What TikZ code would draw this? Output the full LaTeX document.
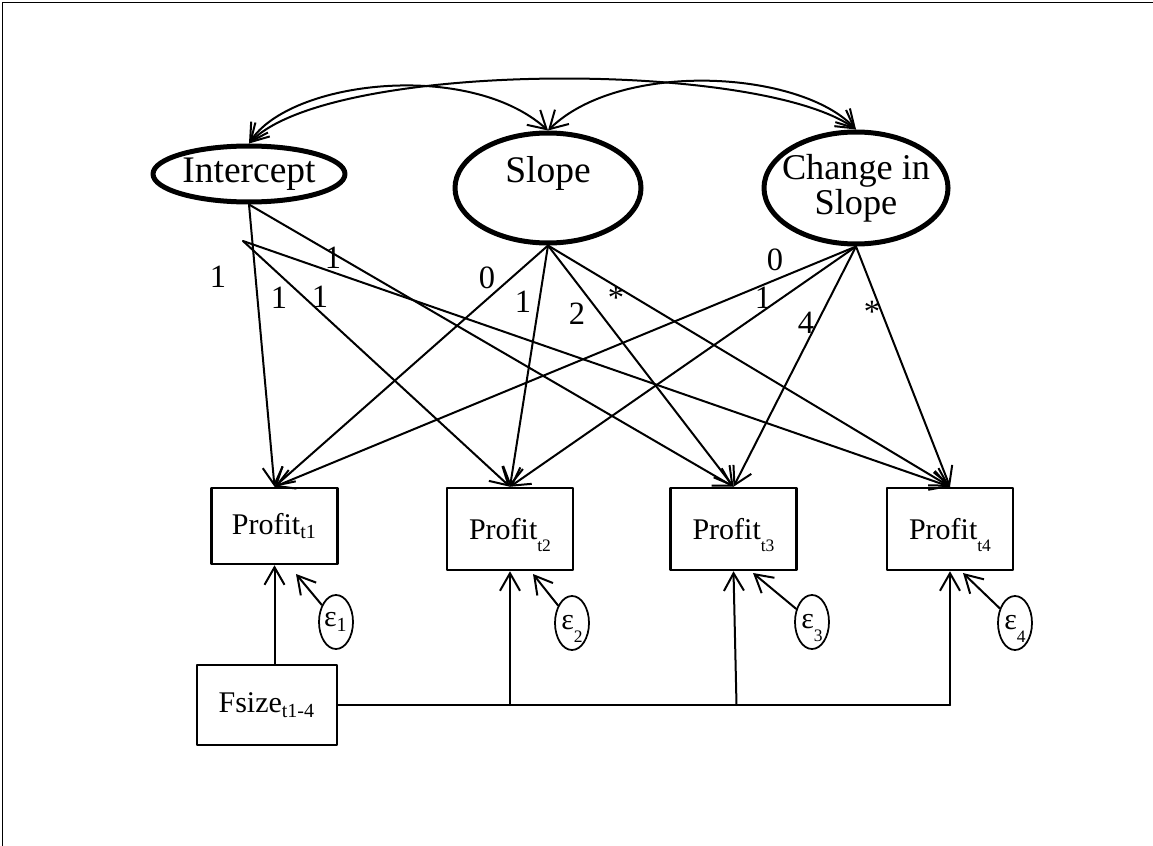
\documentclass[tikz,border=0pt]{standalone}
\usepackage{fontspec}
\setmainfont{Liberation Serif}
\usetikzlibrary{arrows.meta,positioning,shapes.geometric}
\newcommand{\lsub}[1]{\textsubscript{#1}}
\newcommand{\dsub}[1]{\smash{\raisebox{-0.9ex}{\scriptsize #1}}}
\tikzset{
    every picture/.style={line cap=round,line join=round},
    latent/.style={draw,ellipse,line width=2pt,inner sep=0pt},
    latentlabel/.style={font=\fontsize{15}{14}\selectfont,align=center},
    observed/.style={draw,rectangle,line width=1pt,inner sep=0pt,
      minimum width=50.4pt,minimum height=32.8pt,font=\fontsize{12}{14}\selectfont},
    covariate/.style={draw,rectangle,line width=0.5pt,inner sep=0pt,
      minimum width=56pt,minimum height=32pt,font=\fontsize{12}{14}\selectfont},
    errnode/.style={draw,ellipse,line width=0.7pt,inner sep=0pt,
      minimum width=13.6pt,minimum height=21.6pt,font=\fontsize{12}{14}\selectfont},
    loadarrow/.style={-{Straight Barb[length=7pt,width=8pt]},line width=0.8pt},
    covarrow/.style={{Straight Barb[length=7pt,width=8pt]}-{Straight Barb[length=7pt,width=8pt]},
      line width=0.8pt},
    plainline/.style={line width=0.8pt},
    coef/.style={inner sep=0pt,font=\fontsize{13}{14}\selectfont}
}
\begin{document}
\begin{tikzpicture}[x=0.4pt,y=-0.4pt]
  \useasboundingbox (0,0) rectangle (1153,846);
  \draw[line width=0.6pt] (2.5,846) -- (2.5,2.5) -- (1153,2.5);
  % growth factors
  \node[latent,minimum width=76.8pt,minimum height=22.4pt,
    label={[latentlabel]center:Intercept}] (int) at (249,174) {};
  \node[latent,minimum width=74.4pt,minimum height=44pt,
    label={[latentlabel,yshift=6pt]center:Slope}] (slp) at (548,188) {};
  \node[latent,minimum width=73.6pt,minimum height=44.8pt,
    label={[latentlabel,font=\fontsize{14.5}{14}\selectfont]center:Change in\\Slope}] (chg) at (856,188) {};
  % repeated measures
  \node[observed,minimum height=30.4pt] (p1) at (274.5,526) {Profit\lsub{t1}};
  \node[observed] (p2) at (510,529) {Profit\dsub{t2}};
  \node[observed] (p3) at (733.5,529) {Profit\dsub{t3}};
  \node[observed] (p4) at (950,529) {Profit\dsub{t4}};
  \node[covariate] (fs) at (267,705) {Fsize\lsub{t1-4}};
  \node[errnode] (e1) at (336,622) {ε\lsub{1}};
  \node[errnode] (e2) at (572,623) {ε\dsub{2}};
  \node[errnode] (e3) at (812,622) {ε\dsub{3}};
  \node[errnode] (e4) at (1015,623) {ε\dsub{4}};
  % covariances
  \draw[covarrow] (int.north) .. controls (290,80) and (470,60) .. (slp.north);
  \draw[covarrow] (slp.north) .. controls (620,60) and (800,70) .. (chg.north);
  \draw[covarrow] (int.north) .. controls (330,60) and (760,60) .. (chg.north);
  % loadings
  \coordinate (intsrc) at (243,241);
  \draw[loadarrow] (int.south) -- (p1.north);
  \draw[loadarrow] (int.south) -- (p3.north);
  \draw[loadarrow] (intsrc) -- (p2.north);
  \draw[loadarrow] (intsrc) -- (p4.north);
  \draw[loadarrow] (slp.south) -- (p1.north);
  \draw[loadarrow] (slp.south) -- (p2.north);
  \draw[loadarrow] (slp.south) -- (p3.north);
  \draw[loadarrow] (slp.south) -- (p4.north);
  \draw[loadarrow] (chg.south) -- (p1.north);
  \draw[loadarrow] (chg.south) -- (p2.north);
  \draw[loadarrow] (chg.south) -- (p3.north);
  \draw[loadarrow] (chg.south) -- (p4.north);
  \node[coef] (ia) at (218,277) {1};
  \node[coef] (ib) at (279,298) {1};
  \node[coef] (ic) at (320,297) {1};
  \node[coef] (id) at (333,258) {1};
  \node[coef] (sa) at (487,278) {0};
  \node[coef] (sb) at (523,302) {1};
  \node[coef] (sc) at (577,314) {2};
  \node[coef] (sd) at (616,298) {*};
  \node[coef] (ca) at (775,260) {0};
  \node[coef] (cb) at (763,298) {1};
  \node[coef] (cc) at (806,323) {4};
  \node[coef] (cd) at (872,312) {*};
  % covariate and errors
  \coordinate (j2) at (p2.south |- fs.east);
  \coordinate (j3) at ([xshift=1.2pt]p3.south |- fs.east);
  \coordinate (j4) at (p4.south |- fs.east);
  \draw[plainline] (fs.east) -- (j4);
  \draw[loadarrow] (fs.north -| p1.south) -- (p1.south);
  \draw[loadarrow] (j2) -- (p2.south);
  \draw[loadarrow] (j3) -- (p3.south);
  \draw[loadarrow] (j4) -- (p4.south);
  \coordinate (t1) at (296,574);
  \coordinate (t2) at (533,574);
  \coordinate (t3) at (753,573);
  \coordinate (t4) at (963,573);
  \draw[loadarrow] (e1) -- (t1);
  \draw[loadarrow] (e2) -- (t2);
  \draw[loadarrow] (e3) -- (t3);
  \draw[loadarrow] (e4) -- (t4);
\end{tikzpicture}
\end{document}
